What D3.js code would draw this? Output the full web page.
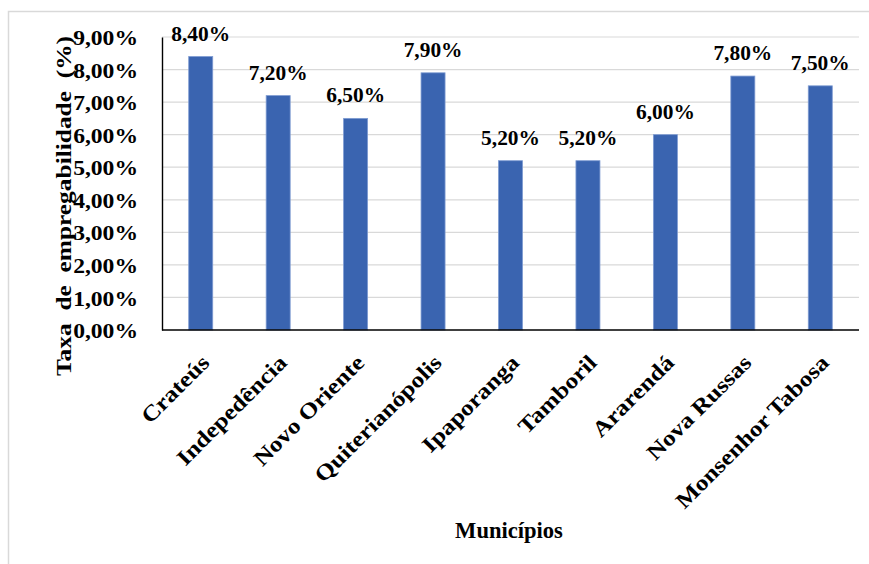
<!DOCTYPE html>
<html>
<head>
<meta charset="utf-8">
<script src="https://cdn.jsdelivr.net/npm/d3@7"></script>
<style>
  html, body { margin: 0; padding: 0; background: #fff; }
</style>
</head>
<body>
<svg id="chart" width="869" height="564"></svg>
<script>
// Taxa de empregabilidade por município
const municipios = ["Crateús", "Indepedência", "Novo Oriente", "Quiterianópolis", "Ipaporanga", "Tamboril", "Ararendá", "Nova Russas", "Monsenhor Tabosa"];
const taxas = [8.4, 7.2, 6.5, 7.9, 5.2, 5.2, 6.0, 7.8, 7.5];
const yTicks = [0, 1, 2, 3, 4, 5, 6, 7, 8, 9];

const FONT = '"Liberation Serif"';
const fmt = v => v.toFixed(2).replace(".", ",") + "%";

const svg = d3.select("#chart");
const W = 869, H = 564;
const plot = { left: 162, right: 859, top: 37, bottom: 330 };

// every label uses the same bold serif face
const label = (sel, size = 20) => sel
  .attr("font-family", FONT)
  .attr("font-weight", "bold")
  .attr("font-size", size)
  .attr("fill", "#000");

// outer chart frame
svg.append("rect")
  .attr("x", 8.5).attr("y", 11.5)
  .attr("width", W).attr("height", H)
  .attr("fill", "#fff").attr("stroke", "#d9d9d9").attr("stroke-width", 1.5);

const x = d3.scaleBand()
  .domain(municipios)
  .range([plot.left, plot.right])
  .paddingInner(0.69)
  .paddingOuter(0.345);

const y = d3.scaleLinear().domain([0, 9]).range([plot.bottom, plot.top]);

// horizontal gridlines
svg.append("g")
  .selectAll("line")
  .data(yTicks.filter(t => t > 0))
  .join("line")
  .attr("x1", plot.left).attr("x2", plot.right)
  .attr("y1", d => y(d)).attr("y2", d => y(d))
  .attr("stroke", "#d9d9d9").attr("stroke-width", 1.2);

// bars
svg.append("g")
  .selectAll("rect")
  .data(taxas)
  .join("rect")
  .attr("x", (d, i) => x(municipios[i]))
  .attr("width", x.bandwidth())
  .attr("y", d => y(d))
  .attr("height", d => y(0) - y(d))
  .attr("fill", "#3a64b0")
  .attr("stroke", "#7e9bd2")
  .attr("stroke-width", 0.8);

// value labels
svg.append("g")
  .selectAll("text")
  .data(taxas)
  .join("text")
  .call(label, 20)
  .attr("text-anchor", "middle")
  .attr("transform", (d, i) => `translate(${x(municipios[i]) + x.bandwidth() / 2},${y(d) - 16}) scale(1.07,1)`)
  .text(d => fmt(d));

// y axis
const yAxis = svg.append("g")
  .attr("transform", `translate(${plot.left},0)`)
  .call(d3.axisLeft(y).tickValues(yTicks).tickSize(0).tickFormat(fmt));
yAxis.attr("font-family", FONT);
yAxis.select(".domain").attr("stroke", "#000").attr("stroke-width", 1.4);
yAxis.selectAll(".tick text")
  .call(label, 20)
  .attr("x", 0)
  .attr("dy", "0.38em")
  .attr("text-anchor", "end")
  .attr("transform", "translate(-24,0) scale(1.18,1)");

// x axis line
svg.append("line")
  .attr("x1", plot.left).attr("x2", plot.right)
  .attr("y1", y(0)).attr("y2", y(0))
  .attr("stroke", "#000").attr("stroke-width", 1.6);

// rotated category labels
svg.append("g")
  .selectAll("text")
  .data(municipios)
  .join("text")
  .call(label, 22)
  .attr("text-anchor", "end")
  .attr("transform", d => `translate(${x(d) + x.bandwidth() / 2 + 10},364) rotate(-45) scale(1.155,1)`)
  .text(d => d);

// axis titles
svg.append("text")
  .call(label, 24)
  .attr("text-anchor", "middle")
  .attr("transform", "translate(509,538) scale(0.94,1)")
  .text("Municípios");

svg.append("text")
  .call(label, 21)
  .attr("text-anchor", "middle")
  .style("white-space", "pre")
  .attr("transform", "translate(71,206) rotate(-90) scale(1.21,1)")
  .text("Taxa  de  empregabilidade  (%)");
</script>
</body>
</html>
